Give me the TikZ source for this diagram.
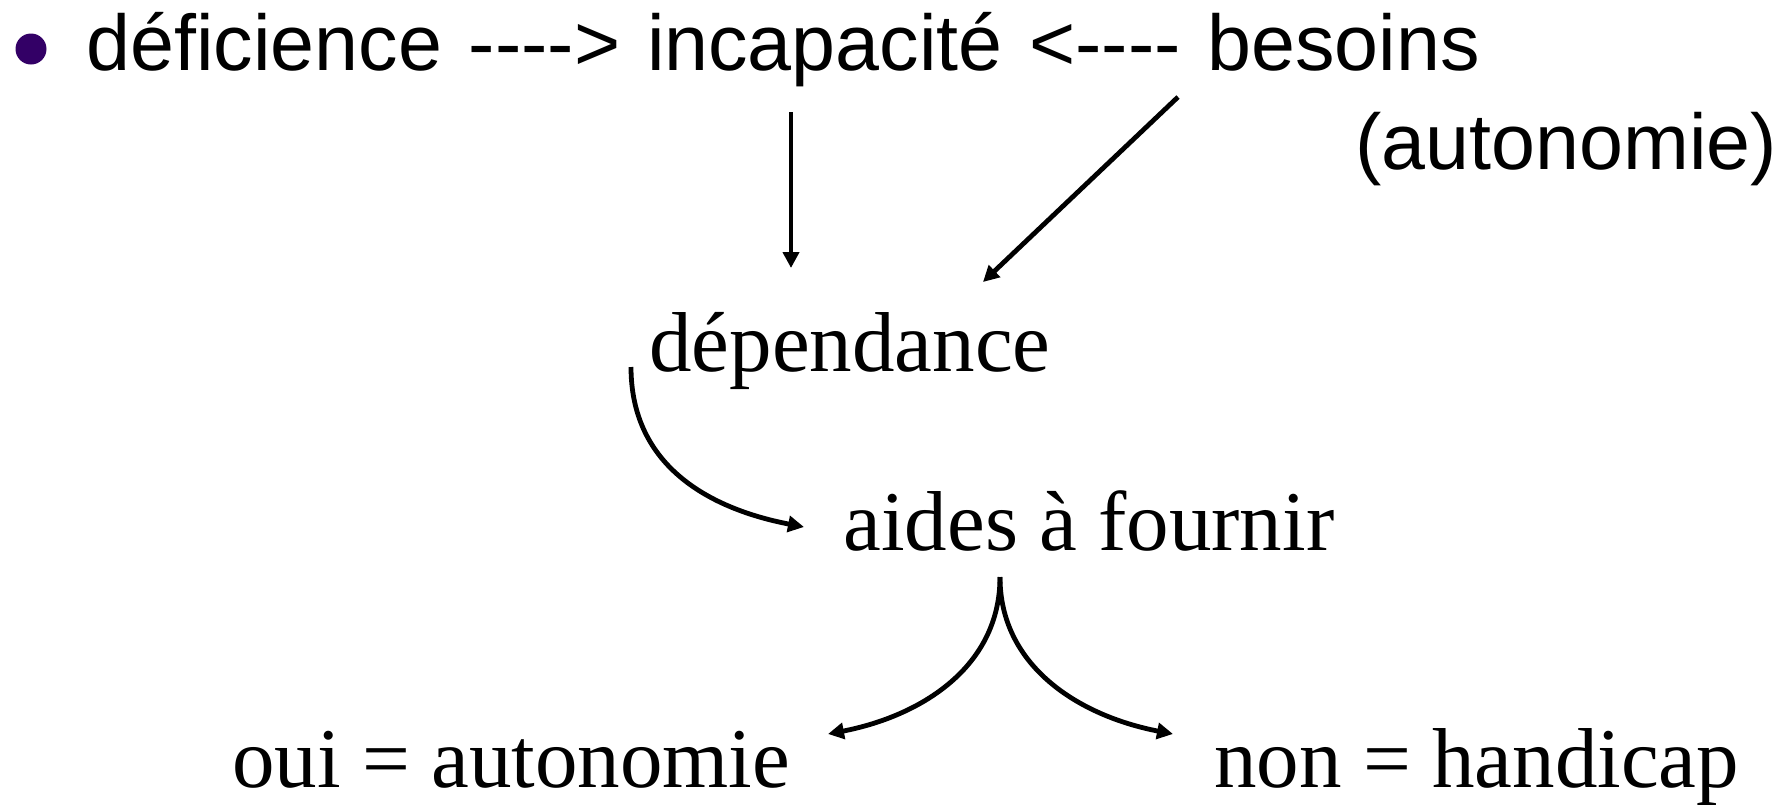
\documentclass[tikz,border=0pt]{standalone}
\usepackage{fontspec}
\setmainfont{Liberation Serif}
\setsansfont{Liberation Sans}
\usepackage{tikz}
\usetikzlibrary{arrows.meta}
\usetikzlibrary{positioning}
\usetikzlibrary{chains}
\definecolor{puce}{HTML}{330066}

\begin{document}
\begin{tikzpicture}[x=0.5pt,y=-0.5pt]
      \tikzstyle{every path}=[line width=2.4pt]
      \tikzstyle{fleche}=[-{Triangle[length=8pt,width=8pt]}]
      \tikzstyle{sans}=[font=\sffamily\fontsize{39.5}{47}\selectfont,inner sep=0pt,anchor=base west]
      \tikzstyle{serif}=[font=\fontsize{42.5}{51}\selectfont,inner sep=0pt,anchor=base west]

      \useasboundingbox (0,0) rectangle (1789,804);

      \node [circle,fill=puce,minimum size=15.5pt,inner sep=0pt] (bullet) at (31,49) {};

      \begin{scope}[start chain=1 going base right,node distance=10.98pt]
        \node [on chain=1,sans] at (84,70) (defi) {déficience};
        \node [on chain=1,sans] {-{}-{}-{}->};
        \node [on chain=1,sans] (incap) {incapacité};
        \node [on chain=1,sans] {<-{}-{}-{}-};
        \node [on chain=1,sans] (besoins) {besoins};
      \end{scope}

      \node [sans] at (1353,169) (autonomie) {(autonomie)};
      \node [serif] at (647,371) (dep) {dépendance};
      \node [serif] at (841,550) (aides) {aides à fournir};
      \node [serif] at (230,787) (oui) {oui = autonomie};
      \node [serif] at (1212,787) (non) {non = handicap};

      \coordinate (incap-bas) at (791,112);
      \coordinate (dep-haut) at (791,268);
      \coordinate (besoins-bas) at (1178,97);
      \coordinate (dep-droite) at (983,282);
      \coordinate (dep-gauche) at (631,367);
      \coordinate (aides-gauche) at (804,527);
      \coordinate (aides-bas) at (1000,577);
      \coordinate (oui-haut) at (828,734);
      \coordinate (non-haut) at (1173,734);

      \draw [fleche] (incap-bas) -- (dep-haut);
      \draw [fleche] (besoins-bas) -- (dep-droite);
      \draw [fleche] (dep-gauche) .. controls (631,467) and (711,509) .. (aides-gauche);
      \draw [fleche] (aides-bas) .. controls (1000,667) and (921,716) .. (oui-haut);
      \draw [fleche] (aides-bas) .. controls (1000,667) and (1080,716) .. (non-haut);
\end{tikzpicture}
\end{document}
